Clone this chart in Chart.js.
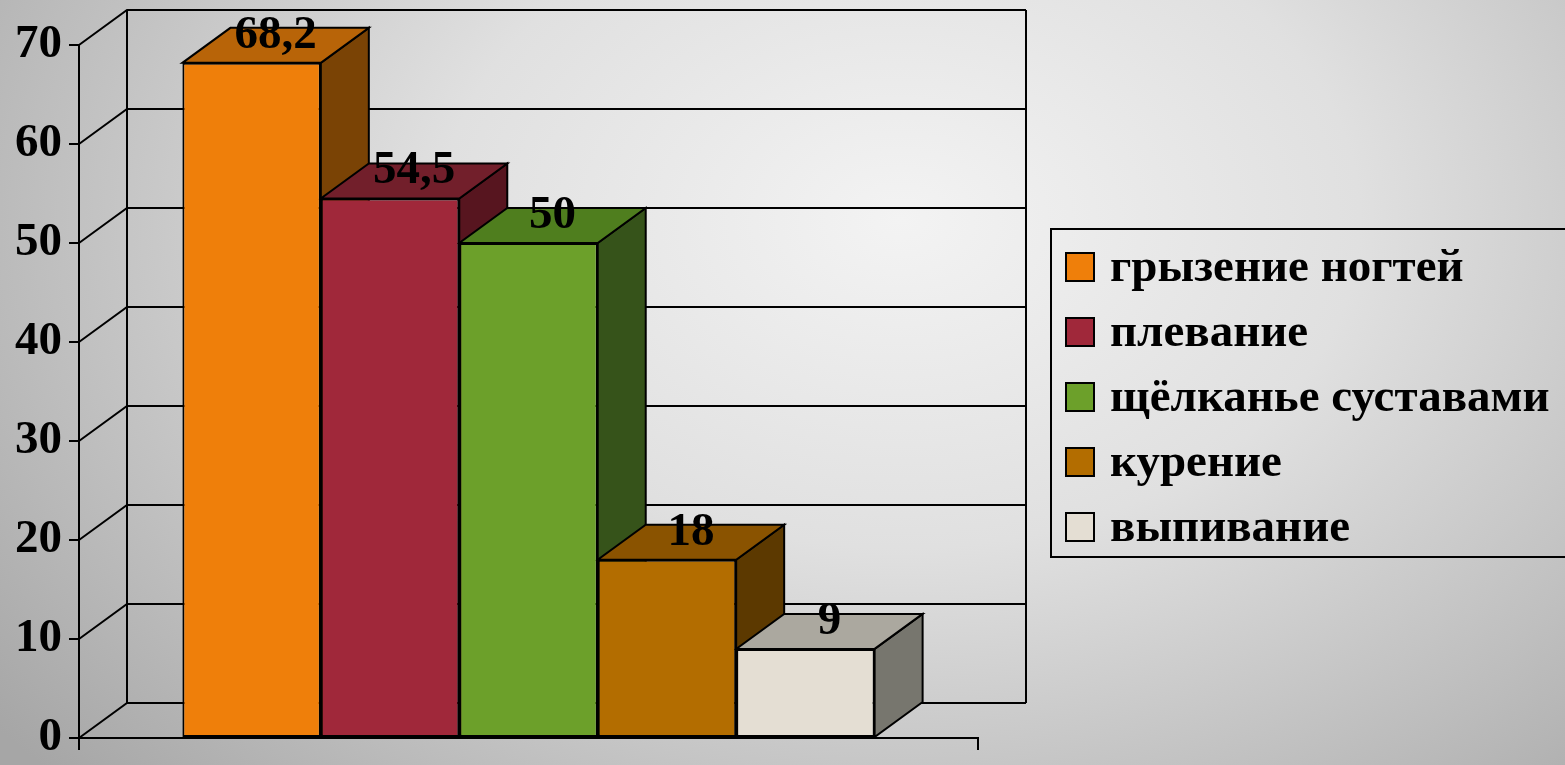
<!DOCTYPE html>
<html lang="ru">
<head>
<meta charset="UTF-8">
<title>Вредные привычки</title>
<script src="https://cdn.jsdelivr.net/npm/chart.js@4.4.1/dist/chart.umd.min.js"></script>
<style>
  html, body { margin: 0; padding: 0; }
  body {
    width: 1565px; height: 765px; overflow: hidden;
    background: radial-gradient(ellipse 1150px 820px at 900px 220px, #f3f3f3 0%, #e0e0e0 40%, #a6a6a6 100%);
  }
</style>
</head>
<body>
<canvas id="habitsChart" width="1565" height="765"></canvas>
<script>
// data
const categories  = ['грызение ногтей', 'плевание', 'щёлканье суставами', 'курение', 'выпивание'];
const values      = [68.2, 54.5, 50, 18, 9];
const valueLabels = ['68,2', '54,5', '50', '18', '9'];
const yTicks      = [0, 10, 20, 30, 40, 50, 60, 70];

// face colours: front / top / side
const frontColors = ['#ef7f0a', '#a0283a', '#6ca02a', '#b36d00', '#e4ded3'];
const topColors   = ['#b86408', '#721f2b', '#4f7e1e', '#8a5300', '#aba89f'];
const sideColors  = ['#7a4305', '#57151f', '#36531a', '#5c3900', '#77766e'];

const DX = 48, DY = -35;   // depth of the 3d boxes
const FONT = 'bold 47px "Liberation Serif", "Times New Roman", serif';

function poly(ctx, pts, fill) {
  ctx.beginPath();
  ctx.moveTo(pts[0][0], pts[0][1]);
  pts.slice(1).forEach(p => ctx.lineTo(p[0], p[1]));
  ctx.closePath();
  ctx.fillStyle = fill;
  ctx.fill();
  ctx.stroke();
}

const box3d = {
  id: 'box3d',
  beforeDatasetsDraw(chart) {
    const { ctx, chartArea: a, scales: { y } } = chart;
    ctx.save();
    ctx.strokeStyle = '#000';
    ctx.lineWidth = 2;

    // back wall + left side wall
    yTicks.forEach(v => {
      const py = y.getPixelForValue(v);
      ctx.beginPath();
      ctx.moveTo(a.left, py);
      ctx.lineTo(a.left + DX, py + DY);
      ctx.lineTo(a.right + DX, py + DY);
      ctx.stroke();
    });
    const yTop = y.getPixelForValue(yTicks[yTicks.length - 1]) + DY;
    const yBot = y.getPixelForValue(0) + DY;
    [a.left + DX, a.right + DX].forEach(x => {
      ctx.beginPath();
      ctx.moveTo(x, yTop);
      ctx.lineTo(x, yBot);
      ctx.stroke();
    });

    // side + top faces, left to right
    chart.data.datasets.forEach((ds, i) => {
      const bar = chart.getDatasetMeta(i).data[0];
      const l = bar.x - bar.width / 2, r = bar.x + bar.width / 2;
      const t = bar.y, b = bar.base;
      poly(ctx, [[r, t], [r + DX, t + DY], [r + DX, b + DY], [r, b]], sideColors[i]);
      poly(ctx, [[l, t], [r, t], [r + DX, t + DY], [l + DX, t + DY]], topColors[i]);
    });
    ctx.restore();
  },
  afterDatasetsDraw(chart) {
    const { ctx } = chart;
    ctx.save();
    ctx.font = FONT;
    ctx.fillStyle = '#000';
    ctx.textAlign = 'center';
    ctx.textBaseline = 'alphabetic';
    chart.data.datasets.forEach((ds, i) => {
      const bar = chart.getDatasetMeta(i).data[0];
      ctx.fillText(valueLabels[i], bar.x + DX / 2, bar.y - 15);
    });
    ctx.restore();
  },
  afterDraw(chart) {
    // legend box on the right
    const { ctx } = chart;
    ctx.save();
    ctx.strokeStyle = '#000';
    ctx.lineWidth = 2;
    ctx.strokeRect(1051, 229, 600, 328);
    ctx.font = FONT;
    ctx.textBaseline = 'alphabetic';
    chart.data.datasets.forEach((ds, i) => {
      const cy = 267 + 65 * i;
      ctx.fillStyle = ds.backgroundColor;
      ctx.fillRect(1066, cy - 14, 28, 28);
      ctx.strokeRect(1066, cy - 14, 28, 28);
      ctx.fillStyle = '#000';
      ctx.fillText(ds.label, 1110, cy + 14);
    });
    ctx.restore();
  }
};

new Chart(document.getElementById('habitsChart'), {
  type: 'bar',
  data: {
    labels: [''],
    datasets: categories.map((c, i) => ({
      label: c,
      data: [values[i]],
      backgroundColor: frontColors[i],
      borderColor: '#000',
      borderWidth: 2,
      borderSkipped: false
    }))
  },
  options: {
    responsive: false,
    animation: false,
    devicePixelRatio: 1,
    layout: { padding: { left: 0, top: 45, right: 587, bottom: 0 } },
    datasets: { bar: { categoryPercentage: 0.77, barPercentage: 1 } },
    plugins: { legend: { display: false }, tooltip: { enabled: false } },
    scales: {
      x: {
        offset: true,
        ticks: { display: false },
        grid: { offset: true, drawOnChartArea: false, drawTicks: true, tickLength: 12, color: '#000', lineWidth: 2 },
        border: { color: '#000', width: 2 },
        afterFit: s => { s.height = 27; }
      },
      y: {
        min: 0,
        max: 70,
        ticks: {
          stepSize: 10, padding: 7, color: '#000',
          font: { family: '"Liberation Serif", "Times New Roman", serif', size: 47, weight: 'bold', lineHeight: 0.8 }
        },
        grid: { drawOnChartArea: false, drawTicks: true, tickLength: 10, color: '#000', lineWidth: 2 },
        border: { color: '#000', width: 2 },
        afterFit: s => { s.width = 79; }
      }
    }
  },
  plugins: [box3d]
});
</script>
</body>
</html>
